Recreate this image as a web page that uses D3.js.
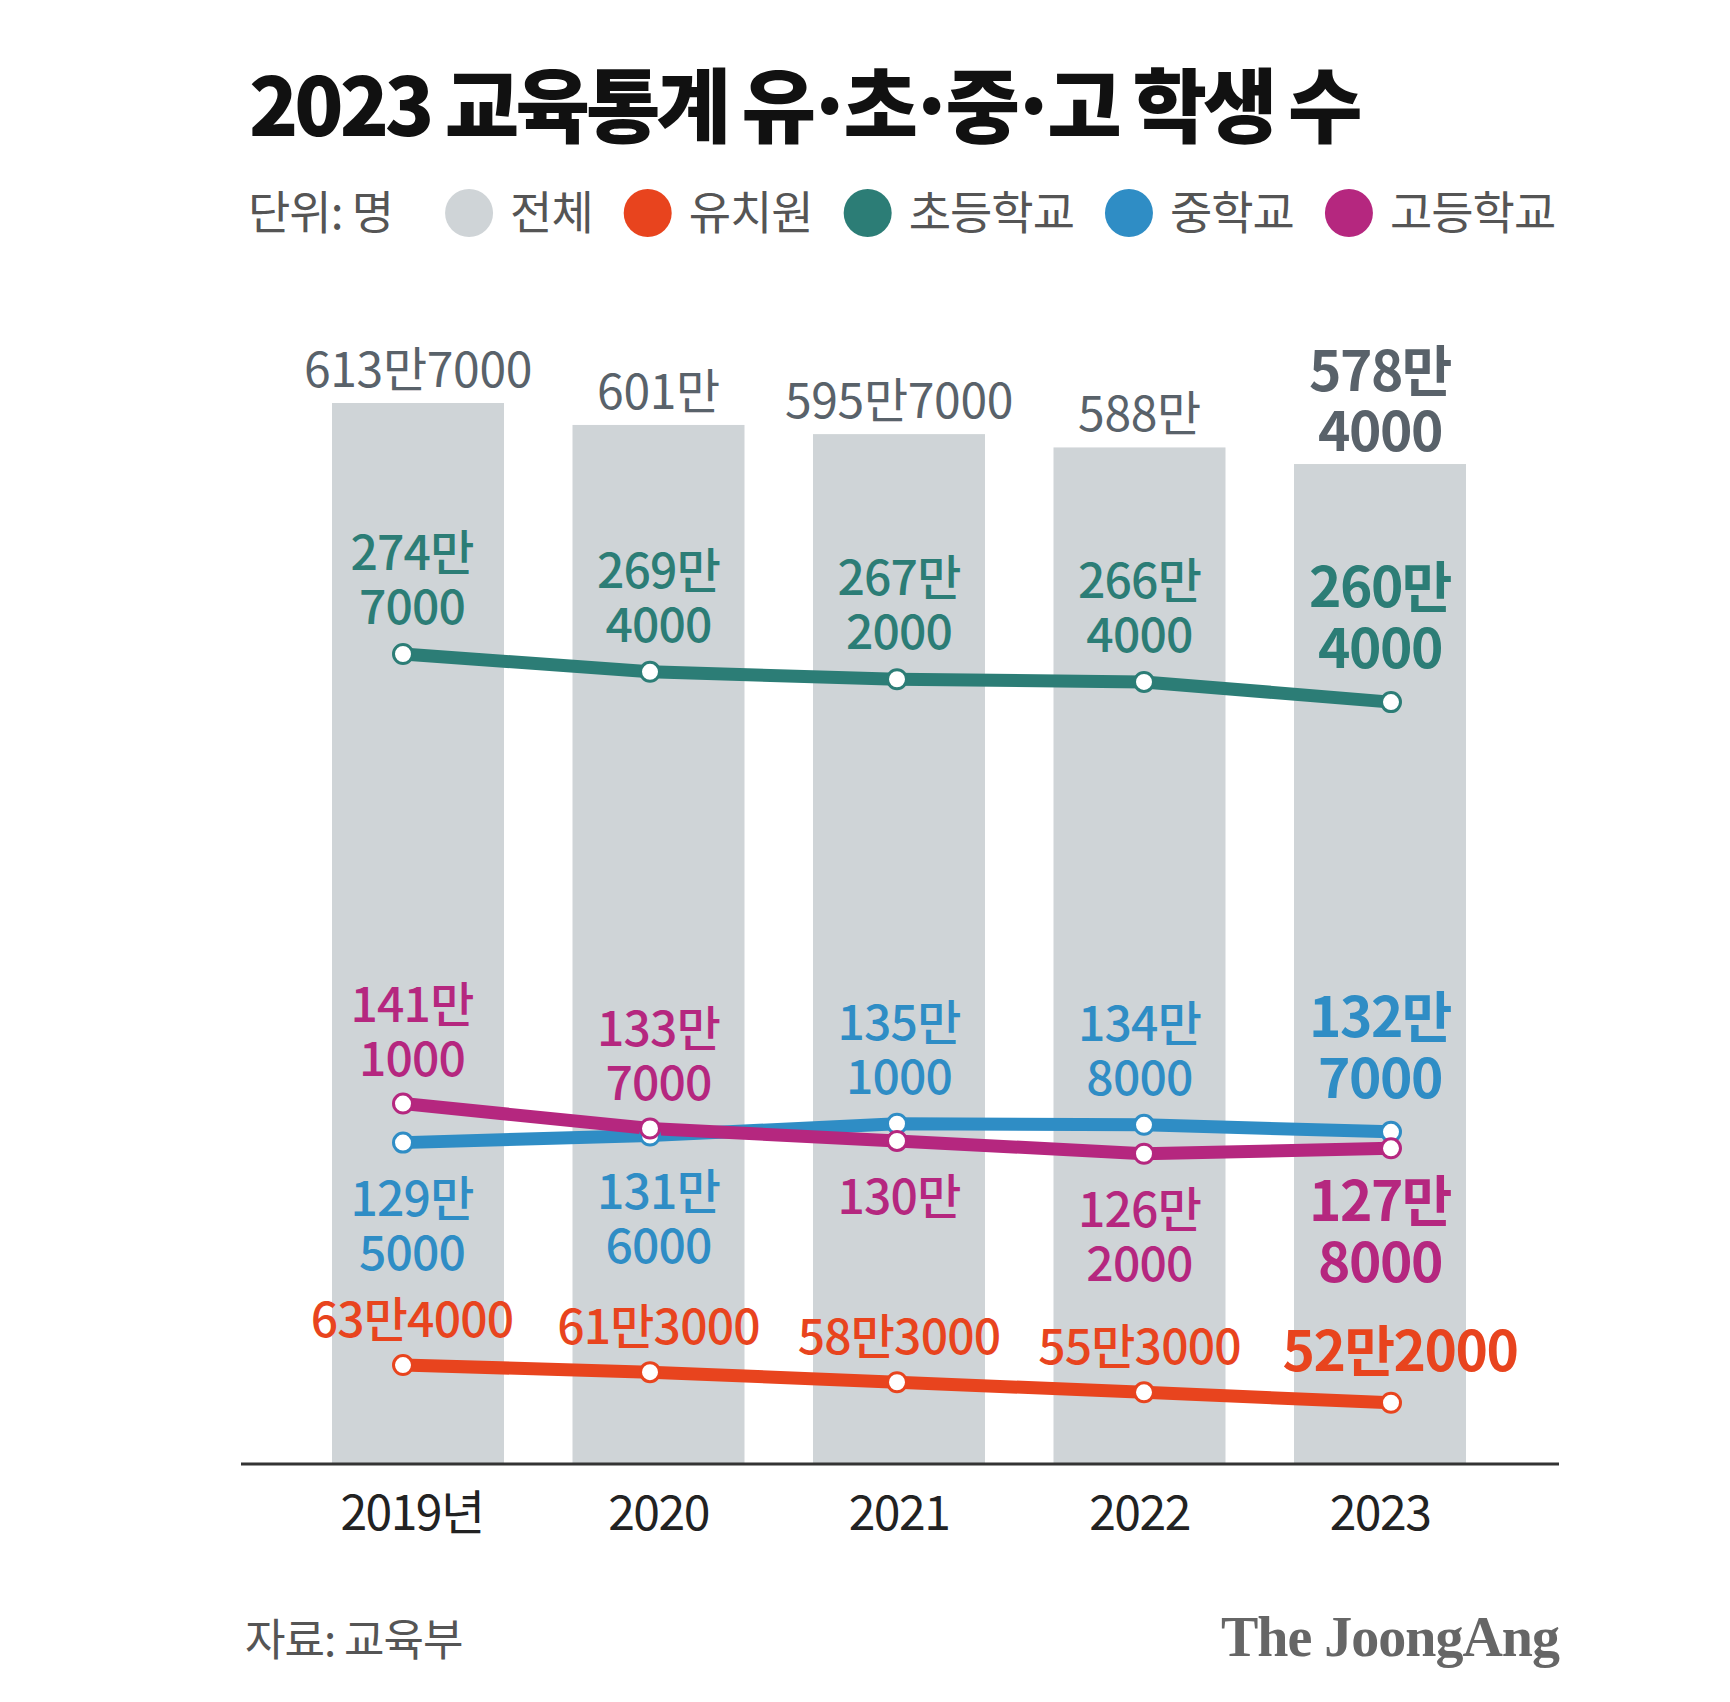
<!DOCTYPE html>
<html>
<head>
<meta charset="utf-8">
<script src="https://cdn.jsdelivr.net/npm/d3@7"></script>
<style>
  html, body { margin: 0; padding: 0; background: #ffffff; }
  svg { display: block; }
</style>
</head>
<body>
<svg id="chart" width="1730" height="1702"></svg>
<script>
// ---- data ----
const years = ["2019년", "2020", "2021", "2022", "2023"];
const totalValues = [6137000, 6010000, 5957000, 5880000, 5784000];
const kinderValues = [634000, 613000, 583000, 553000, 522000];
const elemValues = [2747000, 2694000, 2672000, 2664000, 2604000];
const middleValues = [1295000, 1316000, 1351000, 1348000, 1327000];
const highValues = [1411000, 1337000, 1300000, 1262000, 1278000];
const highLabelSide = ["above", "above", "below", "below", "below"];
const middleLabelSide = ["below", "below", "above", "above", "above"];
const legendNames = ["전체", "유치원", "초등학교", "중학교", "고등학교"];
const legendColors = ["#cfd4d7", "#e8441e", "#2c7d76", "#2f8dc5", "#b5277f"];
const titleParts = ["2023 교육통계 유", "·", "초", "·", "중", "·", "고 학생 수"];
const unitText = "단위: 명";
const sourceText = "자료: 교육부";
const brandText = "The JoongAng";

const SANS = "\"Noto Sans CJK KR\", \"Noto Sans\", sans-serif";
const SERIF = "\"Liberation Serif\", \"DejaVu Serif\", serif";

const svg = d3.select("#chart");
svg.append("rect").attr("width", 1730).attr("height", 1702).attr("fill", "#fff");

// ---- title ----
const title = svg.append("text").attr("x", 249).attr("y", 136)
  .style("font-family", SANS).style("font-size", "81px").style("font-weight", 900)
  .style("letter-spacing", "-4px").attr("fill", "#111");
titleParts.forEach((p, i) => {
  const t = title.append("tspan").text(p);
  if (i > 0) t.attr("dx", -7);
});

// ---- legend ----
const legendY = 213;
const unit = svg.append("text").attr("x", 248).attr("y", legendY + 16)
  .style("font-family", SANS).style("font-size", "46px").style("letter-spacing", "-1px")
  .attr("fill", "#555").text(unitText);
let lx = 248 + unit.node().getComputedTextLength() + 52;
legendNames.forEach((n, i) => {
  svg.append("circle").attr("cx", lx + 24).attr("cy", legendY).attr("r", 24).attr("fill", legendColors[i]);
  const t = svg.append("text").attr("x", lx + 48 + 17).attr("y", legendY + 16)
    .style("font-family", SANS).style("font-size", "46px").style("letter-spacing", "-1px")
    .attr("fill", "#555").text(n);
  lx = lx + 48 + 17 + t.node().getComputedTextLength() + 31;
});

// ---- scales ----
const xBand = d3.scaleBand().domain(years).range([332, 1466]).paddingInner(0.2848).paddingOuter(0);
const yBar = d3.scaleLinear().domain([0, 6137000]).range([1464, 403]);
const xLine = d3.scalePoint().domain(years).range([403, 1391]);
const yLine = d3.scaleLinear().domain([340000, 2747000]).range([1464, 654]);

// ---- bars ----
svg.append("g").selectAll("rect").data(totalValues).join("rect")
  .attr("x", (d, i) => xBand(years[i]))
  .attr("y", d => yBar(d))
  .attr("width", xBand.bandwidth())
  .attr("height", d => yBar(0) - yBar(d))
  .attr("fill", legendColors[0]);

function fmt(v) {
  const man = Math.floor(v / 10000), rest = v % 10000;
  return [man + "만", rest ? String(rest) : ""].filter(s => s);
}

// bar labels
totalValues.forEach((v, i) => {
  const bold = i === totalValues.length - 1;
  const parts = fmt(v);
  const lines = bold ? parts : [parts.join("")];
  const cx = xBand(years[i]) + xBand.bandwidth() / 2;
  const top = yBar(v);
  lines.forEach((t, k) => {
    const by = top - (bold ? 13 : 16) - (lines.length - 1 - k) * 60;
    svg.append("text").attr("x", cx).attr("y", by).attr("text-anchor", "middle")
      .style("font-family", SANS).style("font-size", bold ? "55px" : "48px")
      .style("font-weight", bold ? 700 : 400)
      .style("letter-spacing", bold ? "-1.5px" : "-0.3px").attr("fill", "#59626a").text(t);
  });
});

// ---- axis ----
svg.append("line").attr("x1", 241).attr("x2", 1559).attr("y1", 1464).attr("y2", 1464)
  .attr("stroke", "#333").attr("stroke-width", 3);
const axis = svg.append("g").attr("transform", "translate(0,1464)")
  .call(d3.axisBottom(xBand).tickSize(0).tickPadding(0));
axis.select(".domain").remove();
axis.selectAll("text").attr("y", 66).attr("dy", 0)
  .attr("dx", (d, i) => i === 0 ? -6 : 0)
  .style("font-family", SANS).style("font-size", "48px").style("letter-spacing", "-1.5px")
  .attr("fill", "#222");

// ---- lines ----
const series = [
  { vals: elemValues, color: legendColors[2], sides: null, split: true, up: 30 },
  { vals: middleValues, color: legendColors[3], sides: middleLabelSide, split: true, up: 30 },
  { vals: highValues, color: legendColors[4], sides: highLabelSide, split: true, up: 28 },
  { vals: kinderValues, color: legendColors[1], sides: null, split: false, up: 28 }
];
const lineGen = d3.line().x((d, i) => xLine(years[i])).y(d => yLine(d));
series.forEach(s => {
  svg.append("path").datum(s.vals).attr("d", lineGen)
    .attr("fill", "none").attr("stroke", s.color).attr("stroke-width", 13)
    .attr("stroke-linejoin", "round").attr("stroke-linecap", "round");
});
series.forEach(s => {
  svg.append("g").selectAll("circle").data(s.vals).join("circle")
    .attr("cx", (d, i) => xLine(years[i])).attr("cy", d => yLine(d))
    .attr("r", 9.5).attr("fill", "#fff").attr("stroke", s.color).attr("stroke-width", 3);
});

// line labels
series.forEach(s => {
  s.vals.forEach((v, i) => {
    const bold = i === s.vals.length - 1;
    const parts = fmt(v);
    const lines = s.split ? parts : [parts.join("")];
    const gap = bold ? 61 : 54;
    let cx = xBand(years[i]) + xBand.bandwidth() / 2;
    if (i === 0) cx -= 6;
    if (!s.split && bold) cx += 20;
    const py = yLine(v);
    const side = s.sides ? s.sides[i] : "above";
    lines.forEach((t, k) => {
      let by;
      if (side === "above") by = py - (bold ? s.up + 4 : s.up) - (lines.length - 1 - k) * gap;
      else by = py + 73 + k * gap;
      svg.append("text").attr("x", cx).attr("y", by).attr("text-anchor", "middle")
        .style("font-family", SANS).style("font-size", bold ? "55px" : "48px")
        .style("font-weight", bold ? 700 : 500)
        .style("letter-spacing", bold ? "-1.5px" : "-0.8px").attr("fill", s.color).text(t);
    });
  });
});

// ---- footer ----
svg.append("text").attr("x", 245).attr("y", 1656)
  .style("font-family", SANS).style("font-size", "44px").style("letter-spacing", "-1px")
  .attr("fill", "#555").text(sourceText);
svg.append("text").attr("x", 1559).attr("y", 1656).attr("text-anchor", "end")
  .style("font-family", SERIF).style("font-size", "56px").style("font-weight", 700)
  .style("letter-spacing", "-1px").attr("fill", "#666").text(brandText);
</script>
</body>
</html>
